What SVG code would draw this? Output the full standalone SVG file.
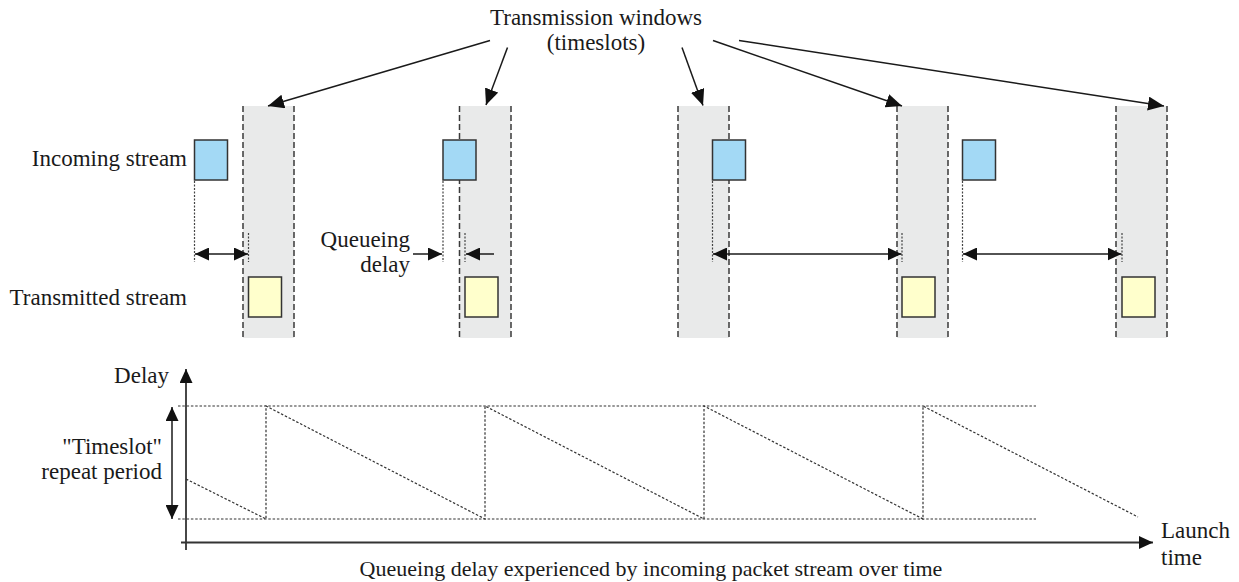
<svg xmlns="http://www.w3.org/2000/svg" width="1239" height="582" viewBox="0 0 1239 582">
<style>
text{font-family:"Liberation Serif","Times New Roman",serif;font-size:23px;fill:#1a1a1a}
.band{fill:#e9eaea;stroke:none}
.edge{stroke:#3a3a3a;stroke-width:1.5;stroke-dasharray:6 3;fill:none}
.in{fill:#a3d9f5;stroke:#333;stroke-width:1.5}
.out{fill:#ffffcc;stroke:#333;stroke-width:1.5}
.dot{stroke:#444;stroke-width:1.2;stroke-dasharray:2 1.5;fill:none}
.gdot{stroke:#333;stroke-width:1.2;stroke-dasharray:2.5 1.8;fill:none}
.arr{stroke:#1a1a1a;stroke-width:1.5;fill:none}
.ax{stroke:#333;stroke-width:1.8;fill:none}
</style>
<defs>
<marker id="ah" markerUnits="userSpaceOnUse" markerWidth="18" markerHeight="14" refX="16" refY="7" orient="auto-start-reverse">
<path d="M0,0 L16,7 L0,14 Z" fill="#111"/>
</marker>
<marker id="ahs" markerUnits="userSpaceOnUse" markerWidth="15" markerHeight="13" refX="14" refY="6.5" orient="auto-start-reverse">
<path d="M0,0 L14,6.5 L0,13 Z" fill="#111"/>
</marker>
</defs>

<g id="band1"><rect class="band" x="243" y="106" width="51" height="232"/><line class="edge" x1="243" y1="106" x2="243" y2="338"/><line class="edge" x1="294" y1="106" x2="294" y2="338"/></g>
<g id="band2"><rect class="band" x="459.5" y="106" width="51.5" height="232"/><line class="edge" x1="459.5" y1="106" x2="459.5" y2="338"/><line class="edge" x1="511" y1="106" x2="511" y2="338"/></g>
<g id="band3"><rect class="band" x="678" y="106" width="51" height="232"/><line class="edge" x1="678" y1="106" x2="678" y2="338"/><line class="edge" x1="729" y1="106" x2="729" y2="338"/></g>
<g id="band4"><rect class="band" x="897" y="106" width="51" height="232"/><line class="edge" x1="897" y1="106" x2="897" y2="338"/><line class="edge" x1="948" y1="106" x2="948" y2="338"/></g>
<g id="band5"><rect class="band" x="1116" y="106" width="51" height="232"/><line class="edge" x1="1116" y1="106" x2="1116" y2="338"/><line class="edge" x1="1167" y1="106" x2="1167" y2="338"/></g>

<g id="title"><text x="596" y="25" text-anchor="middle">Transmission windows</text><text x="596" y="50" text-anchor="middle">(timeslots)</text></g>
<g id="label-incoming"><text x="187" y="166" text-anchor="end">Incoming stream</text></g>
<g id="label-transmitted"><text x="187" y="305" text-anchor="end">Transmitted stream</text></g>
<g id="label-queueing"><text x="410" y="247" text-anchor="end">Queueing</text><text x="410" y="272" text-anchor="end">delay</text></g>

<g id="in1"><rect class="in" x="194.5" y="140" width="33" height="40"/></g>
<g id="in2"><rect class="in" x="443" y="140" width="33" height="40"/></g>
<g id="in3"><rect class="in" x="712.5" y="140" width="33" height="40"/></g>
<g id="in4"><rect class="in" x="962.5" y="140" width="33" height="40"/></g>
<g id="out1"><rect class="out" x="248.5" y="277" width="33" height="40"/></g>
<g id="out2"><rect class="out" x="465" y="277" width="33" height="40"/></g>
<g id="out4"><rect class="out" x="902" y="277" width="33" height="40"/></g>
<g id="out5"><rect class="out" x="1122" y="277" width="33" height="40"/></g>

<g id="connectors">
<line class="arr" x1="490" y1="40.5" x2="268" y2="106" marker-end="url(#ah)"/>
<line class="arr" x1="507.5" y1="47.5" x2="486" y2="105" marker-end="url(#ah)"/>
<line class="arr" x1="682" y1="47.5" x2="703" y2="105.5" marker-end="url(#ah)"/>
<line class="arr" x1="713" y1="40.5" x2="902" y2="106" marker-end="url(#ah)"/>
<line class="arr" x1="739" y1="40.5" x2="1164" y2="106" marker-end="url(#ah)"/>

<line class="dot" x1="194.5" y1="181" x2="194.5" y2="262"/>
<line class="dot" x1="248.5" y1="233" x2="248.5" y2="262"/>
<line class="arr" x1="195" y1="254" x2="248" y2="254" marker-start="url(#ahs)" marker-end="url(#ahs)"/>

<line class="dot" x1="443" y1="181" x2="443" y2="262"/>
<line class="dot" x1="465" y1="233" x2="465" y2="262"/>
<line class="arr" x1="413" y1="254" x2="442" y2="254" marker-end="url(#ahs)"/>
<line class="arr" x1="494" y1="254" x2="466" y2="254" marker-end="url(#ahs)"/>

<line class="dot" x1="712.5" y1="181" x2="712.5" y2="262"/>
<line class="dot" x1="902" y1="233" x2="902" y2="262"/>
<line class="arr" x1="713" y1="254" x2="901.5" y2="254" marker-start="url(#ahs)" marker-end="url(#ahs)"/>

<line class="dot" x1="962.5" y1="181" x2="962.5" y2="262"/>
<line class="dot" x1="1122" y1="233" x2="1122" y2="262"/>
<line class="arr" x1="963" y1="254" x2="1121.5" y2="254" marker-start="url(#ahs)" marker-end="url(#ahs)"/>
</g>

<g id="chart">
<line class="gdot" x1="178" y1="406" x2="1036" y2="406"/>
<line class="gdot" x1="178" y1="519" x2="1036" y2="519"/>
<polyline class="gdot" points="186,479 266,519 266,406 485,519 485,406 704,519 704,406 923,519 923,406 1138,517"/>
<line class="ax" x1="186" y1="550" x2="186" y2="369" marker-end="url(#ahs)"/>
<line class="ax" x1="181" y1="542.5" x2="1153" y2="542.5" marker-end="url(#ahs)"/>
<line class="arr" x1="172" y1="407" x2="172" y2="519" marker-start="url(#ahs)" marker-end="url(#ahs)"/>
</g>
<g id="label-delay"><text x="169" y="383" text-anchor="end">Delay</text></g>
<g id="label-period"><text x="162" y="454" text-anchor="end">"Timeslot"</text><text x="162" y="479" text-anchor="end">repeat period</text></g>
<g id="label-launch"><text x="1161" y="538">Launch</text><text x="1161" y="565">time</text></g>
<g id="caption"><text x="651" y="576" text-anchor="middle" style="font-size:22px">Queueing delay experienced by incoming packet stream over time</text></g>
</svg>
